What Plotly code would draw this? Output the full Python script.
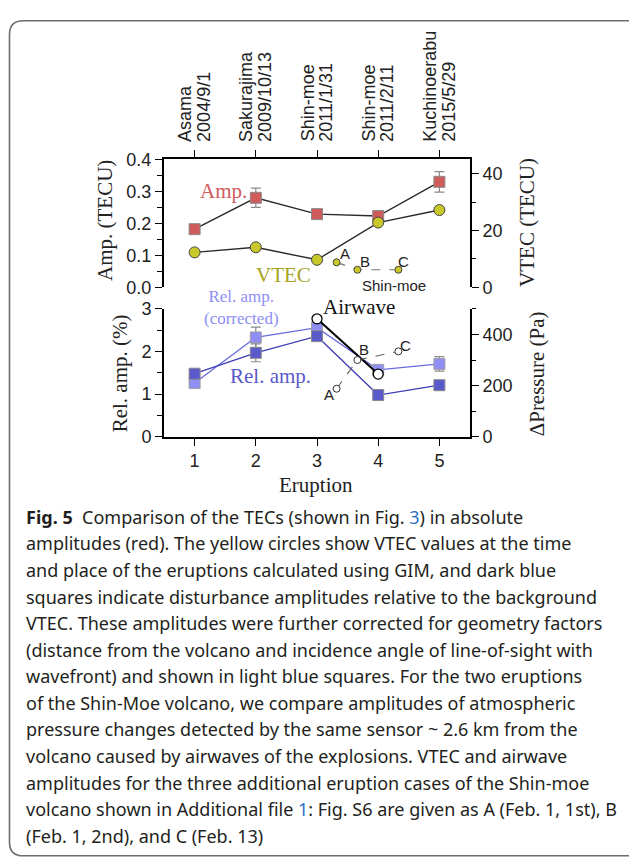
import plotly.graph_objects as go

W, H = 629, 858

# ---------------- data ----------------
eruption = [1, 2, 3, 4, 5]
volcano_names = ["Asama", "Sakurajima", "Shin-moe", "Shin-moe", "Kuchinoerabu"]
volcano_dates = ["2004/9/1", "2009/10/13", "2011/1/31", "2011/2/11", "2015/5/29"]

amp = [0.182, 0.280, 0.229, 0.223, 0.330]          # TECU
amp_err = [0.0, 0.030, 0.0, 0.015, 0.032]
vtec = [12.3, 14.1, 9.7, 22.8, 27.2]               # TECU

shin_x = [3.32, 3.66, 4.33]                         # extra Shin-moe cases A, B, C
shin_labels = ["A", "B", "C"]
shin_vtec = [8.8, 6.2, 6.2]
shin_press = [188, 300, 334]                        # Pa

rel_amp = [1.48, 1.97, 2.36, 0.98, 1.21]           # %
rel_amp_err = [0.05, 0.21, 0.05, 0.05, 0.07]
rel_amp_corr = [1.26, 2.33, 2.56, 1.57, 1.71]
rel_amp_corr_err = [0.05, 0.24, 0.07, 0.07, 0.17]

airwave_x = [3, 4]
airwave_press = [461, 245]                          # Pa

amp_ticks = [0.0, 0.1, 0.2, 0.3, 0.4]
vtec_ticks = [0, 20, 40]
rel_ticks = [0, 1, 2, 3]
press_ticks = [0, 200, 400]

caption_lines = [
    "<b>Fig. 5</b>  Comparison of the TECs (shown in Fig. <span style='color:#2f6fc9'>3</span>) in absolute",
    "amplitudes (red). The yellow circles show VTEC values at the time",
    "and place of the eruptions calculated using GIM, and dark blue",
    "squares indicate disturbance amplitudes relative to the background",
    "VTEC. These amplitudes were further corrected for geometry factors",
    "(distance from the volcano and incidence angle of line-of-sight with",
    "wavefront) and shown in light blue squares. For the two eruptions",
    "of the Shin-Moe volcano, we compare amplitudes of atmospheric",
    "pressure changes detected by the same sensor ~ 2.6 km from the",
    "volcano caused by airwaves of the explosions. VTEC and airwave",
    "amplitudes for the three additional eruption cases of the Shin-moe",
    "volcano shown in Additional file <span style='color:#2f6fc9'>1</span>: Fig. S6 are given as A (Feb. 1, 1st), B",
    "(Feb. 1, 2nd), and C (Feb. 13)",
]

# ---------------- styling ----------------
def px(x):
    return x / W

def py(y):
    return 1 - y / H

SANS = "Liberation Sans, Arial, sans-serif"
SERIF = "Liberation Serif, Times New Roman, serif"
CAP = "Noto Sans, Open Sans, sans-serif"

RED = "#cf5b5b"
OLIVE = "#c9c82a"
OLIVE_TXT = "#a6a31e"
DARKBLUE = "#5a5acb"
LIGHTBLUE = "#8e8ef5"
ERRC = "#8a8a8a"

xdom = [px(164), px(470)]
top_dom = [py(284), py(153)]
bot_dom = [py(437), py(306)]

fig = go.Figure()

# ---- top panel ----
fig.add_trace(go.Scatter(
    x=eruption, y=amp, xaxis="x2", yaxis="y3", mode="lines+markers",
    line=dict(color="#2a2a2a", width=1.4),
    marker=dict(symbol="square", size=11, color=RED, line=dict(color="#8a8a8a", width=1)),
    error_y=dict(type="data", array=amp_err, color=ERRC, thickness=1.2, width=5),
    showlegend=False))
fig.add_trace(go.Scatter(
    x=eruption, y=vtec, xaxis="x2", yaxis="y4", mode="lines+markers",
    line=dict(color="#2a2a2a", width=1.4),
    marker=dict(symbol="circle", size=11, color=OLIVE, line=dict(color="#444", width=1)),
    showlegend=False))
fig.add_trace(go.Scatter(
    x=shin_x, y=shin_vtec, xaxis="x2", yaxis="y4", mode="lines+markers",
    line=dict(color="#777", width=1.2, dash="dash"),
    marker=dict(symbol="circle", size=7, color=OLIVE, line=dict(color="#444", width=1)),
    showlegend=False))

# ---- bottom panel ----
fig.add_trace(go.Scatter(
    x=eruption, y=rel_amp_corr, xaxis="x", yaxis="y", mode="lines+markers",
    line=dict(color="#6a6ae0", width=1.3),
    marker=dict(symbol="square", size=11, color=LIGHTBLUE, line=dict(color="#a0a0a0", width=1)),
    error_y=dict(type="data", array=rel_amp_corr_err, color=ERRC, thickness=1.2, width=5),
    showlegend=False))
fig.add_trace(go.Scatter(
    x=eruption, y=rel_amp, xaxis="x", yaxis="y", mode="lines+markers",
    line=dict(color="#3c3cb4", width=1.3),
    marker=dict(symbol="square", size=11, color=DARKBLUE, line=dict(color="#8a8a8a", width=1)),
    error_y=dict(type="data", array=rel_amp_err, color=ERRC, thickness=1.2, width=5),
    showlegend=False))
fig.add_trace(go.Scatter(
    x=airwave_x, y=airwave_press, xaxis="x", yaxis="y2", mode="lines+markers",
    line=dict(color="black", width=2),
    marker=dict(symbol="circle", size=10, color="white", line=dict(color="black", width=1.3)),
    showlegend=False))
fig.add_trace(go.Scatter(
    x=shin_x, y=shin_press, xaxis="x", yaxis="y2", mode="lines+markers",
    line=dict(color="#666", width=1.1, dash="dash"),
    marker=dict(symbol="circle", size=7, color="white", line=dict(color="#333", width=1)),
    showlegend=False))

axis_common = dict(showline=True, linecolor="black", linewidth=2, ticks="outside",
                   ticklen=7, tickwidth=1.3, tickcolor="black", showgrid=False,
                   zeroline=False, tickfont=dict(family=SANS, size=18, color="#222"))

fig.update_layout(
    width=W, height=H, margin=dict(l=0, r=0, t=0, b=0),
    paper_bgcolor="white", plot_bgcolor="rgba(0,0,0,0)",
    xaxis=dict(domain=xdom, anchor="y", range=[0.5, 5.5], tickvals=eruption, **axis_common),
    yaxis=dict(domain=bot_dom, anchor="x", range=[0, 3], tickvals=rel_ticks,
               minor=dict(dtick=0.5, ticklen=5, tickcolor="black", ticks="outside"), **axis_common),
    yaxis2=dict(overlaying="y", side="right", anchor="x", range=[0, 500], tickvals=press_ticks,
                minor=dict(dtick=100, ticklen=4, tickcolor="black", ticks="outside"), **axis_common),
    xaxis2=dict(domain=xdom, anchor="y3", side="top", range=[0.5, 5.5], tickvals=eruption,
                showticklabels=False, **axis_common),
    yaxis3=dict(domain=top_dom, anchor="x2", range=[0, 0.4], tickvals=amp_ticks, tickformat=".1f",
                minor=dict(dtick=0.05, ticklen=5, tickcolor="black", ticks="outside"), **axis_common),
    yaxis4=dict(overlaying="y3", side="right", anchor="x2", range=[0, 45], tickvals=vtec_ticks,
                minor=dict(dtick=10, ticklen=4, tickcolor="black", ticks="outside"), **axis_common),
)

ann = []
# category labels on top (two rotated lines each)
for xv, nm, dt in zip(eruption, volcano_names, volcano_dates):
    for txt, sh in ((nm, -9), (dt, 9.5)):
        ann.append(dict(x=xv, y=py(137), xref="x2", yref="paper", text=txt, textangle=-90,
                        xanchor="center", yanchor="bottom", xshift=sh, showarrow=False,
                        font=dict(family=SANS, size=18, color="#222")))

# axis titles
def title(text, x, y, size=21, angle=-90):
    ann.append(dict(x=px(x), y=py(y), xref="paper", yref="paper", text=text, textangle=angle,
                    xanchor="center", yanchor="middle", showarrow=False,
                    font=dict(family=SERIF, size=size, color="#222")))

title("Amp. (TECU)", 105, 216)
title("Rel. amp. (%)", 120, 372)
title("VTEC (TECU)", 527, 218)
title("ΔPressure (Pa)", 537, 373)
title("Eruption", 316, 486, angle=0)

# in-plot labels
def lab(text, x, y, xr, yr, color, fam=SERIF, size=21):
    ann.append(dict(x=x, y=y, xref=xr, yref=yr, text=text, showarrow=False,
                    xanchor="center", yanchor="middle", font=dict(family=fam, size=size, color=color)))

lab("Amp.", 1.47, 0.302, "x2", "y3", RED)
lab("VTEC", 2.45, 0.040, "x2", "y3", OLIVE_TXT)
lab("Shin-moe", 4.25, 0.006, "x2", "y3", "#222", fam=SANS, size=15)
for t, xx, yy in zip(shin_labels, [3.45, 3.79, 4.41], [0.107, 0.082, 0.082]):
    lab(t, xx, yy, "x2", "y3", "#222", fam=SANS, size=15)

lab("Rel. amp.<br>(corrected)", 1.77, py(305), "x", "paper", LIGHTBLUE, size=17)
lab("Rel. amp.", 2.24, 1.42, "x", "y", DARKBLUE)
lab("Airwave", 3.68, py(304), "x", "paper", "#111")
for t, xx, yy in zip(shin_labels, [3.20, 3.77, 4.45], [1.0, 2.04, 2.15]):
    lab(t, xx, yy, "x", "y", "#222", fam=SANS, size=15)

# caption
for i, line in enumerate(caption_lines):
    ann.append(dict(x=px(24), y=py(519 + i * 27.2), xref="paper", yref="paper", text=line,
                    xanchor="left", yanchor="middle", showarrow=False, align="left",
                    font=dict(family=CAP, size=18, color="#231f20")))

fig.update_layout(annotations=ann)

# rounded border frame
l, t, r, b, rad = 9.5, 11, 645, 866, 14
path = (f"M {px(l)},{py(t + rad)} Q {px(l)},{py(t)} {px(l + rad)},{py(t)} "
        f"L {px(r)},{py(t)} L {px(r)},{py(b)} L {px(l + rad)},{py(b)} "
        f"Q {px(l)},{py(b)} {px(l)},{py(b - rad)} Z")
fig.add_shape(type="path", path=path, xref="paper", yref="paper",
              line=dict(color="#6e6e6e", width=1.6), fillcolor="rgba(0,0,0,0)", layer="below")

fig.write_html("out.html", config={"displayModeBar": False},
               post_script="document.body.style.margin='0';")
